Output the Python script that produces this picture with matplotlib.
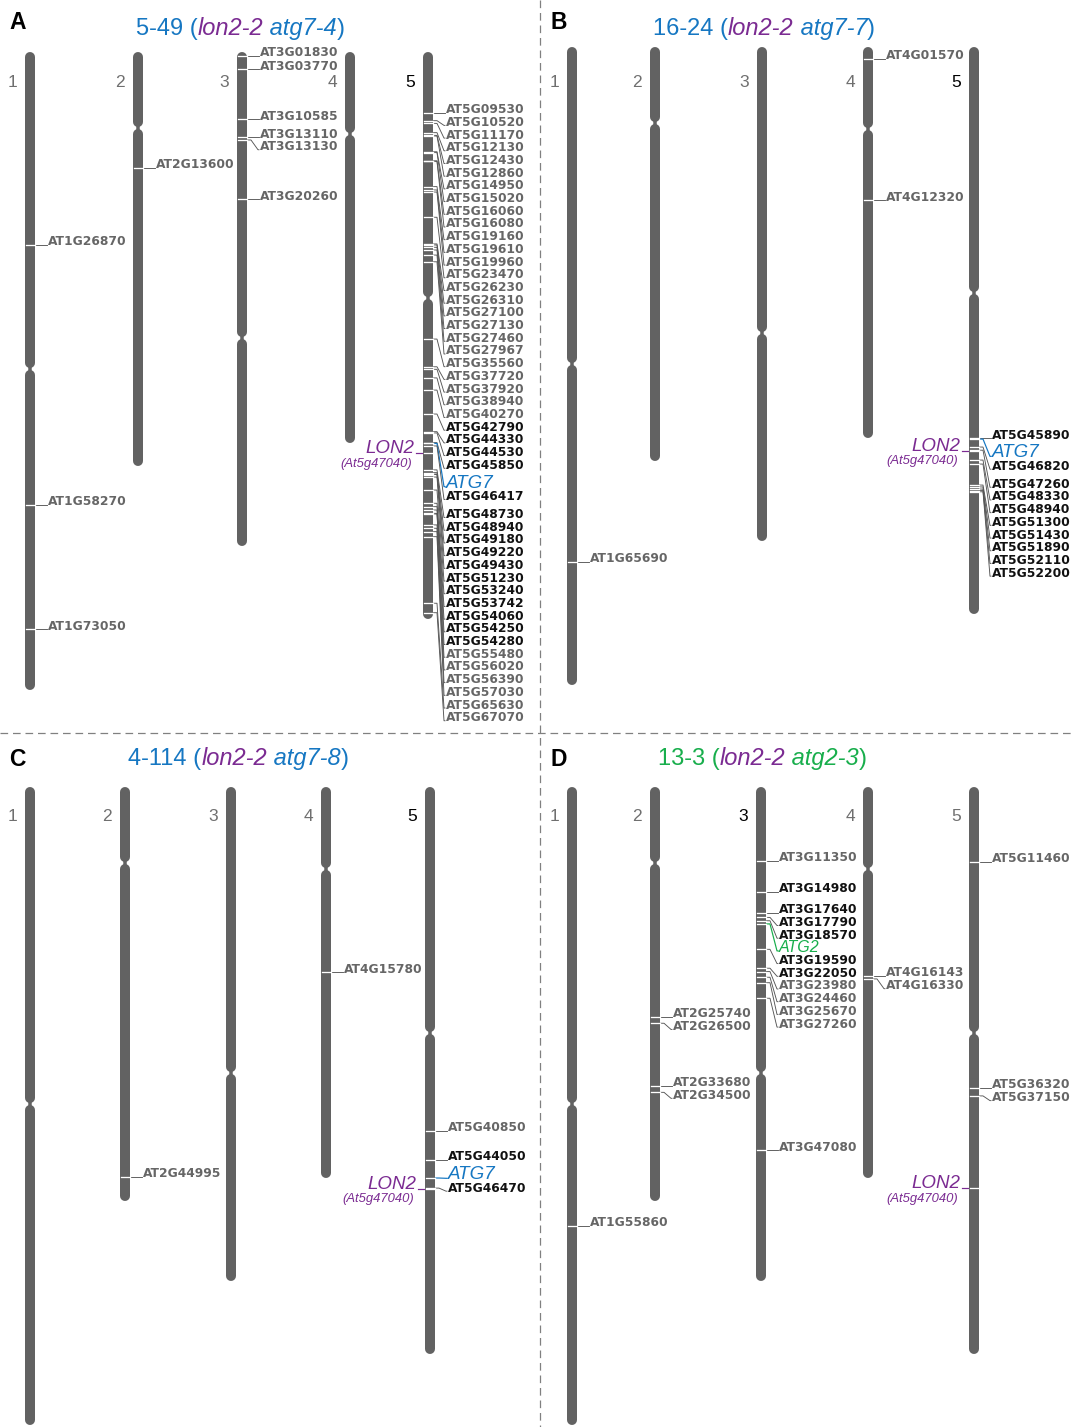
import matplotlib.pyplot as plt

plt.rcParams['lines.scale_dashes'] = False

# Arabidopsis chromosomes (Mb)
chrom_len = [30.4, 19.7, 23.5, 18.6, 27.0]
centromere = [15.1, 3.6, 13.6, 3.9, 11.7]

# colours
BLUE = '#1677c2'
PURPLE = '#7b2b92'
GREEN = '#18ae4c'
CHR = '#626262'
GREY_TXT = '#666666'
LEADER = '#555555'

# ---- panel A: 5-49 (lon2-2 atg7-4)
a_names = ["AT1G26870", "AT1G58270", "AT1G73050",
           "AT2G13600",
           "AT3G01830", "AT3G03770", "AT3G10585", "AT3G13110", "AT3G13130", "AT3G20260",
           "AT5G09530", "AT5G10520", "AT5G11170", "AT5G12130", "AT5G12430", "AT5G12860",
           "AT5G14950", "AT5G15020", "AT5G16060", "AT5G16080", "AT5G19160", "AT5G19610",
           "AT5G19960", "AT5G23470", "AT5G26230", "AT5G26310", "AT5G27100", "AT5G27130",
           "AT5G27460", "AT5G27967", "AT5G35560", "AT5G37720", "AT5G37920", "AT5G38940",
           "AT5G40270", "AT5G42790", "AT5G44330", "AT5G44530", "AT5G45850", "ATG7",
           "AT5G46417", "AT5G48730", "AT5G48940", "AT5G49180", "AT5G49220", "AT5G49430",
           "AT5G51230", "AT5G53240", "AT5G53742", "AT5G54060", "AT5G54250", "AT5G54280",
           "AT5G55480", "AT5G56020", "AT5G56390", "AT5G57030", "AT5G65630", "AT5G67070"]
a_chrom = [1, 1, 1, 2, 3, 3, 3, 3, 3, 3] + [5] * 48
a_pos = [9.19, 21.57, 27.48,
         5.52,
         0.19, 0.83, 3.21, 4.05, 4.19, 7.0,
         2.89, 3.27, 3.40, 3.84, 3.97, 4.00, 4.75, 4.79, 5.18, 5.21, 6.41, 6.57,
         6.67, 7.87, 9.14, 9.19, 9.30, 9.43, 9.67, 9.99, 13.67, 14.99, 15.11, 15.52,
         16.10, 17.24, 18.08, 18.14, 18.60, 18.64, 18.76, 19.90, 20.03, 20.10, 20.12,
         20.24, 20.86, 21.49, 21.65, 21.81, 21.97, 22.00, 22.52, 22.68, 22.84, 23.08,
         26.25, 26.70]
a_kind = ['g'] * 35 + ['k'] * 4 + ['atg7'] + ['k'] * 12 + ['g'] * 6

# ---- panel B: 16-24 (lon2-2 atg7-7)
b_names = ["AT1G65690", "AT4G01570", "AT4G12320",
           "AT5G45890", "ATG7", "AT5G46820", "AT5G47260", "AT5G48330", "AT5G48940",
           "AT5G51300", "AT5G51430", "AT5G51890", "AT5G52110", "AT5G52200"]
b_chrom = [1, 4, 4] + [5] * 11
b_pos = [24.52, 0.57, 7.29,
         18.62, 18.67, 19.05, 19.20, 19.67, 19.86, 20.86, 20.95, 21.05, 21.12, 21.18]
b_kind = ['g', 'g', 'g', 'k', 'atg7'] + ['k'] * 9

# ---- panel C: 4-114 (lon2-2 atg7-8)
c_names = ["AT2G44995", "AT4G15780", "AT5G40850", "AT5G44050", "ATG7", "AT5G46470"]
c_chrom = [2, 4, 5, 5, 5, 5]
c_pos = [18.57, 8.81, 16.38, 17.76, 18.62, 19.10]
c_kind = ['g', 'g', 'g', 'k', 'atg7', 'k']

# ---- panel D: 13-3 (lon2-2 atg2-3)
d_names = ["AT1G55860",
           "AT2G25740", "AT2G26500", "AT2G33680", "AT2G34500",
           "AT3G11350", "AT3G14980", "AT3G17640", "AT3G17790", "AT3G18570", "ATG2",
           "AT3G19590", "AT3G22050", "AT3G23980", "AT3G24460", "AT3G25670", "AT3G27260",
           "AT3G47080",
           "AT4G16143", "AT4G16330",
           "AT5G11460", "AT5G36320", "AT5G37150"]
d_chrom = [1, 2, 2, 2, 2] + [3] * 13 + [4, 4, 5, 5, 5]
d_pos = [20.90,
         10.94, 11.25, 14.22, 14.54,
         3.51, 4.99, 5.99, 6.21, 6.37, 6.52, 7.73, 8.63, 8.79, 9.06, 9.32, 10.06, 17.29,
         9.00, 9.14,
         3.57, 14.33, 14.71]
d_kind = ['g'] * 6 + ['k'] * 4 + ['atg2'] + ['k'] * 2 + ['g'] * 5 + ['g'] * 5

lon2_pos = [19.10, 19.22, 19.14, 19.10]

titles = [
    [("5-49 (", BLUE, 'normal'), ("lon2-2", PURPLE, 'italic'), (" atg7-4", BLUE, 'italic'), (")", BLUE, 'normal')],
    [("16-24 (", BLUE, 'normal'), ("lon2-2", PURPLE, 'italic'), (" atg7-7", BLUE, 'italic'), (")", BLUE, 'normal')],
    [("4-114 (", BLUE, 'normal'), ("lon2-2", PURPLE, 'italic'), (" atg7-8", BLUE, 'italic'), (")", BLUE, 'normal')],
    [("13-3 (", GREEN, 'normal'), ("lon2-2", PURPLE, 'italic'), (" atg2-3", GREEN, 'italic'), (")", GREEN, 'normal')],
]
letters = ["A", "B", "C", "D"]
highlight = [5, 5, 5, 3]

# layout (pixels)
chrom_x = [[30, 138, 242, 350, 428],
           [572, 655, 762, 868, 974],
           [30, 125, 231, 326, 430],
           [572, 655, 761, 868, 974]]
chrom_top = [52, 47, 787, 787]
num_base = [87, 87, 821, 821]
title_pos = [(136, 35), (653, 35), (128, 765), (658, 765)]
letter_pos = [(9, 29), (550, 29), (9, 766), (550, 766)]
SCALE = 21.0
PX = 0.72
panels = [(a_names, a_chrom, a_pos, a_kind), (b_names, b_chrom, b_pos, b_kind),
          (c_names, c_chrom, c_pos, c_kind), (d_names, d_chrom, d_pos, d_kind)]

fig = plt.figure(figsize=(10.75, 14.27), dpi=100)
ax = fig.add_axes([0, 0, 1, 1])
ax.set_xlim(0, 1075)
ax.set_ylim(1427, 0)
ax.axis('off')

SANS = 'Liberation Sans'
LABEL_FONT = dict(family='DejaVu Sans', weight='bold', size=8.8)

# dashed separators
ax.plot([540, 540], [0, 1427], color='#808080', lw=0.9, dashes=(5.5, 3.5))
ax.plot([0, 1075], [733, 733], color='#808080', lw=0.9, dashes=(5.5, 3.5))


def draw_chrom(cx, top, i):
    bot = top + chrom_len[i] * SCALE
    c = top + centromere[i] * SCALE
    kw = dict(color=CHR, lw=10 * PX, solid_capstyle='round', zorder=2)
    ax.plot([cx, cx], [top + 5, c - 6], **kw)
    ax.plot([cx, cx], [c + 6, bot - 5], **kw)
    ax.plot([cx, cx], [c - 3, c + 3], color=CHR, lw=3.5 * PX, zorder=2)


for p in range(4):
    names, chroms, pos, kinds = panels[p]
    top = chrom_top[p]

    # title and panel letter
    lx, ly = letter_pos[p]
    ax.text(lx, ly, letters[p], family=SANS, weight='bold', size=16.5, va='baseline')
    tx, ty = title_pos[p]
    prev = None
    for s, col, sty in titles[p]:
        if prev is None:
            prev = ax.text(tx, ty, s, family=SANS, size=17, color=col, style=sty, va='baseline')
        else:
            prev = ax.annotate(s, xy=(1, 0), xycoords=prev, family=SANS, size=17,
                               color=col, style=sty, va='bottom', ha='left')

    for i in range(5):
        cx = chrom_x[p][i]
        draw_chrom(cx, top, i)
        ax.text(cx - 13, num_base[p], str(i + 1), family=SANS, size=12.5, ha='right',
                va='baseline', color='black' if highlight[p] == i + 1 else '#6f6f6f')

        # genes on this chromosome, stacked labels
        idx = [k for k in range(len(names)) if chroms[k] == i + 1]
        prev_y, prev_below, after_atg = None, 6.35, False
        for k in idx:
            m = top + pos[k] * SCALE
            big = kinds[k] == 'atg7'
            above = 12.0 if big else 6.35
            below = 6.5 if big else (11.7 if after_atg else 6.35)
            yl = m if prev_y is None else max(m, prev_y + prev_below + above)
            prev_y, prev_below = yl, below
            after_atg = big

            ax.plot([cx - 4.5, cx + 4.5], [m, m], color='white', lw=1.3 * PX, zorder=3)
            lcol = {'atg7': BLUE, 'atg2': GREEN}.get(kinds[k], LEADER)
            ax.plot([cx + 5, cx + 9, cx + 16, cx + 17], [m, m, yl, yl], color=lcol,
                    lw=0.9 * PX if lcol == LEADER else 1.2 * PX, zorder=1)
            if kinds[k] == 'atg7':
                ax.text(cx + 18, yl + 1, names[k], family=SANS, style='italic', size=13.5,
                        color=BLUE, va='baseline')
            elif kinds[k] == 'atg2':
                ax.text(cx + 18, yl + 1, names[k], family=SANS, style='italic', size=11.5,
                        color=GREEN, va='baseline')
            else:
                ax.text(cx + 18, yl + 0.5, names[k], color='#111111' if kinds[k] == 'k' else GREY_TXT,
                        va='baseline', **LABEL_FONT)

    # LON2 on chromosome 5, labelled on the left
    cx = chrom_x[p][4]
    m = top + lon2_pos[p] * SCALE
    ax.plot([cx - 4.5, cx + 4.5], [m, m], color='white', lw=1.3 * PX, zorder=3)
    ax.plot([cx - 12, cx - 5], [m, m], color=PURPLE, lw=1.2 * PX, zorder=1)
    ax.text(cx - 14, m, "LON2", family=SANS, style='italic', size=13.5, color=PURPLE,
            ha='right', va='baseline')
    ax.text(cx - 16, m + 13.5, "(At5g47040)", family=SANS, style='italic', size=9.4,
            color=PURPLE, ha='right', va='baseline')

fig.savefig('out.png', dpi=100)
